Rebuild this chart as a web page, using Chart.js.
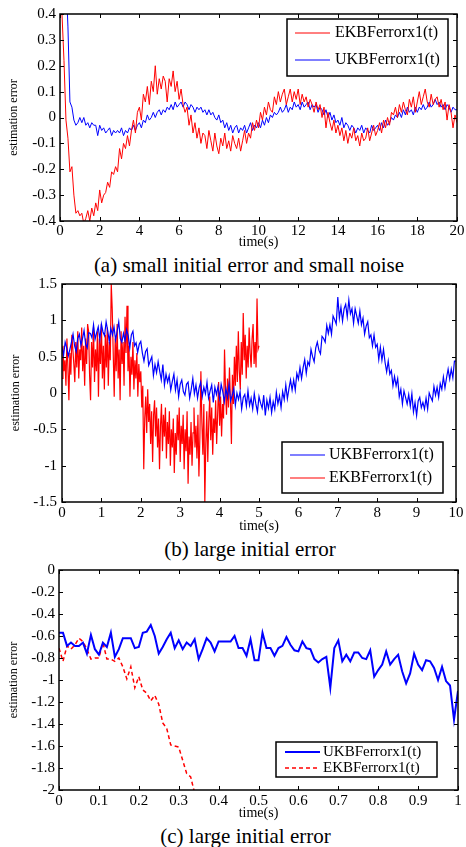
<!DOCTYPE html>
<html><head><meta charset="utf-8">
<script src="https://cdn.jsdelivr.net/npm/chart.js@4.4.1/dist/chart.umd.min.js"></script>
<style>
body{margin:0;background:#fff;width:466px;height:847px;position:relative;overflow:hidden;font-family:"Liberation Serif","Times New Roman",serif;}
.panel{position:absolute;left:0;width:466px;}
.cap{position:absolute;text-align:center;font-size:21px;line-height:24px;color:#000;white-space:nowrap;}
</style></head><body>
<div class="panel" style="top:0;height:251px"><canvas id="ca"></canvas></div>
<div class="cap" style="top:253px;left:0;width:498px">(a) small initial error and small noise</div>
<div class="panel" style="top:270px;height:265px"><canvas id="cb"></canvas></div>
<div class="cap" style="top:537px;left:0;width:500px">(b) large initial error</div>
<div class="panel" style="top:556px;height:266px"><canvas id="cc"></canvas></div>
<div class="cap" style="top:824px;left:0;width:491px">(c) large initial error</div>
<script>
// ---------- DATA ----------
// Panel (a): samples every 0.1 s, t = 0 .. 20
const stepA = 0.1;
const ekbfA = [
0.45,0.40,0.22,-0.01,-0.08,-0.21,-0.19,-0.30,-0.37,-0.36,
-0.38,-0.37,-0.41,-0.39,-0.36,-0.40,-0.35,-0.38,-0.33,-0.36,
-0.28,-0.33,-0.30,-0.29,-0.25,-0.27,-0.21,-0.22,-0.19,-0.21,
-0.12,-0.16,-0.10,-0.12,-0.07,-0.11,-0.05,-0.01,-0.06,0.02,
0.04,-0.01,0.09,0.06,0.12,0.05,0.14,0.10,0.20,0.09,
0.15,0.11,0.16,0.14,0.06,0.15,0.12,0.18,0.10,0.14,
0.07,0.11,0.05,0.02,0.04,-0.03,0.01,-0.06,-0.02,-0.08,
-0.04,-0.10,-0.06,-0.07,-0.12,-0.05,-0.09,-0.13,-0.06,-0.11,
-0.14,-0.08,-0.11,-0.06,-0.12,-0.09,-0.13,-0.07,-0.10,-0.12,
-0.08,-0.13,-0.09,-0.05,-0.10,-0.06,-0.08,-0.02,-0.05,-0.01,
-0.04,0.02,-0.01,0.04,0.01,0.06,0.03,0.02,0.08,0.05,
0.10,0.06,0.09,0.11,0.05,0.08,0.11,0.06,0.10,0.07,
0.11,0.05,0.09,0.06,0.08,0.04,0.07,0.05,0.02,0.06,
0.03,0.05,0.00,0.04,-0.04,0.02,-0.02,-0.05,-0.01,-0.06,
-0.03,-0.07,-0.04,-0.09,-0.05,-0.10,-0.06,-0.08,-0.04,-0.09,
-0.07,-0.11,-0.06,-0.09,-0.08,-0.04,-0.09,-0.06,-0.03,-0.07,
-0.05,-0.02,-0.06,-0.01,-0.04,0.00,-0.03,0.02,0.01,0.04,
0.00,0.05,0.02,0.06,0.03,0.01,0.07,0.04,0.08,0.02,
0.06,0.10,0.05,0.08,0.11,0.06,0.04,0.09,0.05,0.07,
0.08,0.04,0.07,0.03,0.06,-0.01,0.05,0.02,-0.04,0.01,
-0.02];
const ukbfA = [
0.90,0.80,0.70,0.55,0.35,0.06,0.04,-0.01,-0.03,-0.02,
0.00,-0.02,0.00,-0.03,-0.02,-0.04,-0.02,-0.03,-0.03,-0.07,
-0.03,-0.05,-0.04,-0.06,-0.05,-0.04,-0.07,-0.05,-0.06,-0.05,
-0.06,-0.04,-0.07,-0.05,-0.06,-0.04,-0.05,-0.03,-0.05,-0.03,
-0.02,-0.04,-0.01,-0.02,0.01,-0.01,0.00,0.02,0.00,0.02,
0.03,0.01,0.03,0.02,0.04,0.03,0.05,0.03,0.06,0.04,
0.05,0.06,0.04,0.06,0.05,0.03,0.05,0.04,0.02,0.04,
0.03,0.04,0.02,0.03,0.01,0.03,0.01,0.02,0.00,-0.01,
0.01,-0.02,-0.01,-0.04,-0.02,-0.05,-0.03,-0.06,-0.04,-0.03,
-0.06,-0.04,-0.05,-0.03,-0.06,-0.04,-0.02,-0.05,-0.03,-0.04,
-0.02,-0.04,-0.01,-0.03,0.00,-0.02,0.01,0.00,0.02,0.01,
0.02,0.04,0.02,0.03,0.05,0.02,0.04,0.03,0.06,0.04,
0.05,0.03,0.06,0.04,0.05,0.06,0.03,0.05,0.04,0.05,
0.02,0.04,0.03,0.01,0.03,0.00,0.02,-0.01,0.01,-0.02,
-0.01,-0.03,0.00,-0.04,-0.02,-0.03,-0.05,-0.03,-0.04,-0.06,
-0.04,-0.05,-0.03,-0.06,-0.04,-0.05,-0.06,-0.03,-0.05,-0.04,
-0.03,-0.05,-0.02,-0.04,-0.01,-0.03,-0.02,0.00,-0.01,0.01,
0.00,0.02,0.00,0.03,0.01,0.04,0.02,0.03,0.01,0.04,
0.02,0.04,0.03,0.05,0.03,0.04,0.06,0.04,0.05,0.07,
0.05,0.06,0.04,0.05,0.03,0.05,0.04,0.02,0.04,0.03,
0.03];
const xTicksA = [0,2,4,6,8,10,12,14,16,18,20];
const yTicksA = [-0.4,-0.3,-0.2,-0.1,0,0.1,0.2,0.3,0.4];

// Panel (b): UKBF every 0.04 s (0..10), EKBF every 0.025 s (0..5)
const stepBU = 0.04;
const ukbfB = [
0.63,0.52,0.70,0.62,0.51,0.60,0.70,0.81,0.65,0.57,
0.75,0.81,0.66,0.75,0.86,0.67,0.62,0.83,0.82,0.76,
0.94,0.74,0.83,0.91,0.74,0.95,0.84,0.79,0.98,0.86,
0.71,0.89,0.80,0.91,0.73,0.85,0.98,0.75,0.70,0.82,
0.72,0.87,0.79,0.62,0.80,0.85,0.65,0.69,0.56,0.67,
0.71,0.55,0.44,0.57,0.61,0.38,0.44,0.50,0.24,0.39,
0.28,0.43,0.30,0.18,0.39,0.11,0.26,0.15,0.24,0.04,
0.16,0.26,0.04,0.18,-0.05,0.12,0.18,0.02,-0.03,0.12,
0.15,-0.07,0.05,0.20,-0.01,0.11,-0.07,0.07,0.15,-0.05,
0.08,-0.01,0.15,-0.07,0.03,0.11,-0.13,0.08,-0.02,0.09,
-0.07,0.12,0.02,-0.12,0.06,-0.06,0.12,-0.11,-0.03,0.06,
-0.17,0.00,-0.09,0.02,-0.22,-0.06,-0.02,-0.18,0.03,-0.17,
-0.07,-0.22,-0.01,-0.15,-0.26,-0.05,-0.14,-0.21,-0.03,-0.31,
-0.10,-0.21,-0.06,-0.27,-0.12,-0.22,0.01,-0.15,-0.04,-0.20,
0.02,-0.09,0.11,-0.08,0.06,0.18,0.04,0.18,0.04,0.27,
0.19,0.35,0.20,0.35,0.46,0.27,0.43,0.38,0.60,0.50,
0.43,0.62,0.70,0.59,0.54,0.78,0.75,0.70,0.93,0.82,
0.94,0.81,1.06,1.01,0.95,1.32,1.03,1.18,0.99,1.16,
1.22,1.05,1.28,1.09,1.16,0.96,1.16,1.06,0.96,1.13,
0.94,1.03,0.81,0.92,0.98,0.76,0.80,0.65,0.80,0.63,
0.67,0.46,0.63,0.45,0.60,0.42,0.29,0.44,0.26,0.31,
0.10,0.23,0.10,0.20,-0.05,0.05,-0.15,0.03,-0.06,-0.15,
-0.02,-0.18,-0.01,-0.26,-0.13,-0.31,-0.11,-0.06,-0.20,-0.13,
-0.22,-0.07,-0.22,0.00,-0.06,-0.11,0.09,-0.03,0.08,-0.06,
0.13,0.05,0.22,0.07,0.21,0.33,0.19,0.33,0.21,0.44,
0.44];
const stepBE = 0.025;
const ekbfB = [
0.20,0.65,0.30,0.45,0.10,0.75,0.35,-0.10,0.55,0.25,
0.80,0.60,0.40,0.15,0.70,0.35,0.85,0.20,0.60,0.45,
0.90,0.30,0.65,0.10,0.75,0.40,0.95,0.85,0.25,-0.10,
0.70,0.35,0.90,0.15,0.60,0.30,0.85,-0.05,0.75,0.40,
0.95,0.20,0.65,0.05,0.80,0.35,0.90,0.10,0.70,0.45,
1.50,1.15,0.55,-0.05,0.75,0.30,0.95,0.20,0.60,-0.10,
0.85,0.40,0.70,0.10,1.05,0.55,1.20,0.30,0.65,-0.05,
0.50,0.25,0.70,0.05,0.45,0.20,0.55,-0.05,0.40,0.15,
0.30,-0.20,0.10,-1.05,-0.35,-0.05,-0.55,0.05,-0.40,-0.15,
-0.70,-0.25,-0.95,-0.30,-0.10,-0.60,-0.20,-0.75,-0.35,-1.05,
-0.45,-0.15,-0.80,-0.30,-0.60,-0.20,-0.90,-0.40,-0.70,-0.25,
-1.00,-0.50,-0.75,-0.35,-1.10,-0.55,-0.85,-0.30,-0.65,-0.20,
-0.95,-0.45,-0.70,-0.30,-1.05,-0.50,-0.80,-0.25,-1.25,-0.60,
-0.85,-0.40,-1.00,-0.55,-0.20,-0.75,-0.45,-0.90,-0.30,-1.15,
-0.60,0.30,-0.40,-0.85,-0.15,-1.50,-0.70,-0.25,-0.95,-0.40,
-0.05,-0.65,-0.20,-0.85,-0.35,-0.55,-0.10,-0.70,-0.30,0.15,
-0.45,-0.05,-0.60,-0.15,-0.35,0.60,0.05,-0.30,0.20,-0.20,
0.35,-0.10,-0.70,0.25,-0.15,0.50,0.10,0.65,0.15,0.85,
0.30,0.05,0.70,0.25,1.10,0.45,0.80,0.20,0.65,0.35,
0.90,0.55,0.35,0.75,0.95,0.40,0.70,0.35,1.30,0.60,
0.65];
const xTicksB = [0,1,2,3,4,5,6,7,8,9,10];
const yTicksB = [-1.5,-1,-0.5,0,0.5,1,1.5];

// Panel (c): samples every 0.01 s
const stepC = 0.01;
const ukbfC = [
-0.57,-0.57,-0.69,-0.66,-0.69,-0.69,-0.66,-0.76,-0.59,-0.72,
-0.77,-0.66,-0.70,-0.57,-0.79,-0.72,-0.62,-0.62,-0.62,-0.71,
-0.70,-0.57,-0.56,-0.50,-0.60,-0.76,-0.70,-0.63,-0.57,-0.71,
-0.64,-0.72,-0.66,-0.69,-0.63,-0.81,-0.72,-0.62,-0.66,-0.74,
-0.65,-0.65,-0.65,-0.65,-0.60,-0.71,-0.71,-0.78,-0.63,-0.82,
-0.82,-0.57,-0.71,-0.71,-0.78,-0.71,-0.69,-0.61,-0.68,-0.73,
-0.74,-0.65,-0.71,-0.72,-0.81,-0.84,-0.81,-0.79,-1.07,-0.71,
-0.64,-0.83,-0.77,-0.83,-0.75,-0.75,-0.80,-0.81,-0.73,-0.97,
-0.91,-0.86,-0.74,-0.86,-0.81,-0.77,-0.92,-1.03,-0.94,-0.76,
-0.86,-0.91,-0.82,-0.83,-0.89,-1.00,-0.88,-1.01,-1.05,-1.36,
-1.10];
const ekbfC = [
-0.71,-0.83,-0.69,-0.72,-0.68,-0.62,-0.65,-0.72,-0.81,-0.80,
-0.80,-0.66,-0.81,-0.81,-0.83,-0.80,-0.88,-0.99,-0.88,-1.07,
-0.97,-1.09,-1.12,-1.19,-1.14,-1.22,-1.39,-1.44,-1.59,-1.60,
-1.61,-1.73,-1.85,-1.88,-2.03,-2.10];
const xTicksC = [0,0.1,0.2,0.3,0.4,0.5,0.6,0.7,0.8,0.9,1];
const yTicksC = [-2,-1.8,-1.6,-1.4,-1.2,-1,-0.8,-0.6,-0.4,-0.2,0];

// ---------- RENDERING ----------
const FONT = '"Liberation Serif","Times New Roman",serif';
const pts = (vals, step) => vals.map((v, i) => ({x: +(i * step).toFixed(4), y: v}));

const framePlugin = {
  id: 'frame',
  afterDatasetsDraw(chart) {
    const {ctx, chartArea: a, scales} = chart;
    const L = 4;
    ctx.save();
    ctx.strokeStyle = '#000';
    ctx.lineWidth = 1;
    ctx.beginPath();
    scales.x.ticks.forEach(t => {
      const px = Math.round(scales.x.getPixelForValue(t.value)) + 0.5;
      ctx.moveTo(px, a.bottom); ctx.lineTo(px, a.bottom - L);
      ctx.moveTo(px, a.top); ctx.lineTo(px, a.top + L);
    });
    scales.y.ticks.forEach(t => {
      const py = Math.round(scales.y.getPixelForValue(t.value)) + 0.5;
      ctx.moveTo(a.left, py); ctx.lineTo(a.left + L, py);
      ctx.moveTo(a.right, py); ctx.lineTo(a.right - L, py);
    });
    ctx.stroke();
    ctx.lineWidth = 1.5;
    ctx.strokeRect(a.left, a.top, a.right - a.left, a.bottom - a.top);
    ctx.restore();
  }
};

const boxLegendPlugin = {
  id: 'boxLegend',
  afterDraw(chart, args, o) {
    if (!o || !o.items) return;
    const ctx = chart.ctx;
    ctx.save();
    ctx.fillStyle = '#fff';
    ctx.fillRect(o.x, o.y, o.w, o.h);
    ctx.strokeStyle = '#000';
    ctx.lineWidth = 1.5;
    ctx.strokeRect(o.x, o.y, o.w, o.h);
    ctx.font = o.fontSize + 'px ' + FONT;
    ctx.textBaseline = 'middle';
    o.items.forEach((di, k) => {
      const ds = chart.data.datasets[di];
      const y = o.rows[k];
      ctx.strokeStyle = ds.borderColor;
      ctx.lineWidth = ds.borderWidth;
      ctx.setLineDash(ds.borderDash || []);
      ctx.beginPath();
      ctx.moveTo(o.lx1, y); ctx.lineTo(o.lx2, y);
      ctx.stroke();
      ctx.setLineDash([]);
      ctx.fillStyle = '#000';
      ctx.fillText(ds.label, o.tx, y);
    });
    ctx.restore();
  }
};

function makeChart(id, c) {
  return new Chart(document.getElementById(id), {
    type: 'line',
    data: {datasets: c.datasets},
    options: {
      responsive: true, maintainAspectRatio: false, animation: false, devicePixelRatio: 1,
      layout: {padding: {left: 0, right: c.padRight, top: c.padTop, bottom: 0}},
      elements: {point: {radius: 0}, line: {tension: 0}},
      plugins: {legend: {display: false}, tooltip: {enabled: false}, boxLegend: c.legend},
      scales: {
        x: {
          type: 'linear', min: c.xMin, max: c.xMax,
          afterBuildTicks: s => { s.ticks = c.xTicks.map(v => ({value: v})); },
          afterFit: s => { s.height = c.xH; },
          grid: {display: false, drawTicks: false}, border: {display: false},
          ticks: {autoSkip: false, maxRotation: 0, padding: c.xTickPad, color: '#000',
                  font: {family: FONT, size: 15}, callback: v => String(v)},
          title: {display: true, text: 'time(s)', color: '#000', padding: {top: 0, bottom: 0},
                  font: {family: FONT, size: 14}}
        },
        y: {
          type: 'linear', min: c.yMin, max: c.yMax,
          afterBuildTicks: s => { s.ticks = c.yTicks.map(v => ({value: v})); },
          afterFit: s => { s.width = c.yW; },
          grid: {display: false, drawTicks: false}, border: {display: false},
          ticks: {autoSkip: false, padding: c.yTickPad, color: '#000',
                  font: {family: FONT, size: 15}, callback: v => String(v)},
          title: {display: true, text: 'estimation error', color: '#000',
                  padding: {top: c.yTitlePad, bottom: 0}, font: {family: FONT, size: 12}}
        }
      }
    },
    plugins: [framePlugin, boxLegendPlugin]
  });
}

makeChart('ca', {
  datasets: [
    {label: 'EKBFerrorx1(t)', data: pts(ekbfA, stepA), borderColor: '#ff0000', borderWidth: 1},
    {label: 'UKBFerrorx1(t)', data: pts(ukbfA, stepA), borderColor: '#0000ff', borderWidth: 1}
  ],
  xMin: 0, xMax: 20, yMin: -0.4, yMax: 0.4, xTicks: xTicksA, yTicks: yTicksA,
  padTop: 14, padRight: 9, yW: 60, xH: 30, xTickPad: 1, yTickPad: 4, yTitlePad: 7,
  legend: {x: 287, y: 19, w: 161, h: 57, lx1: 295, lx2: 330, tx: 335, rows: [33, 60], items: [0, 1], fontSize: 16}
});

makeChart('cb', {
  datasets: [
    {label: 'UKBFerrorx1(t)', data: pts(ukbfB, stepBU), borderColor: '#0000ff', borderWidth: 1.2},
    {label: 'EKBFerrorx1(t)', data: pts(ekbfB, stepBE), borderColor: '#ff0000', borderWidth: 1.2}
  ],
  xMin: 0, xMax: 10, yMin: -1.5, yMax: 1.5, xTicks: xTicksB, yTicks: yTicksB,
  padTop: 14, padRight: 10, yW: 62, xH: 33, xTickPad: 2, yTickPad: 5, yTitlePad: 9,
  legend: {x: 282, y: 172, w: 161, h: 51, lx1: 290, lx2: 325, tx: 329, rows: [185, 208], items: [0, 1], fontSize: 16}
});

makeChart('cc', {
  datasets: [
    {label: 'UKBFerrorx1(t)', data: pts(ukbfC, stepC), borderColor: '#0000ff', borderWidth: 2},
    {label: 'EKBFerrorx1(t)', data: pts(ekbfC, stepC), borderColor: '#ff0000', borderWidth: 1.5, borderDash: [4, 3]}
  ],
  xMin: 0, xMax: 1, yMin: -2, yMax: 0, xTicks: xTicksC, yTicks: yTicksC,
  padTop: 14, padRight: 8, yW: 59, xH: 32, xTickPad: 2, yTickPad: 4, yTitlePad: 7,
  legend: {x: 276, y: 186, w: 161, h: 35, lx1: 285, lx2: 320, tx: 323, rows: [196, 212], items: [0, 1], fontSize: 15}
});
</script>
</body></html>
